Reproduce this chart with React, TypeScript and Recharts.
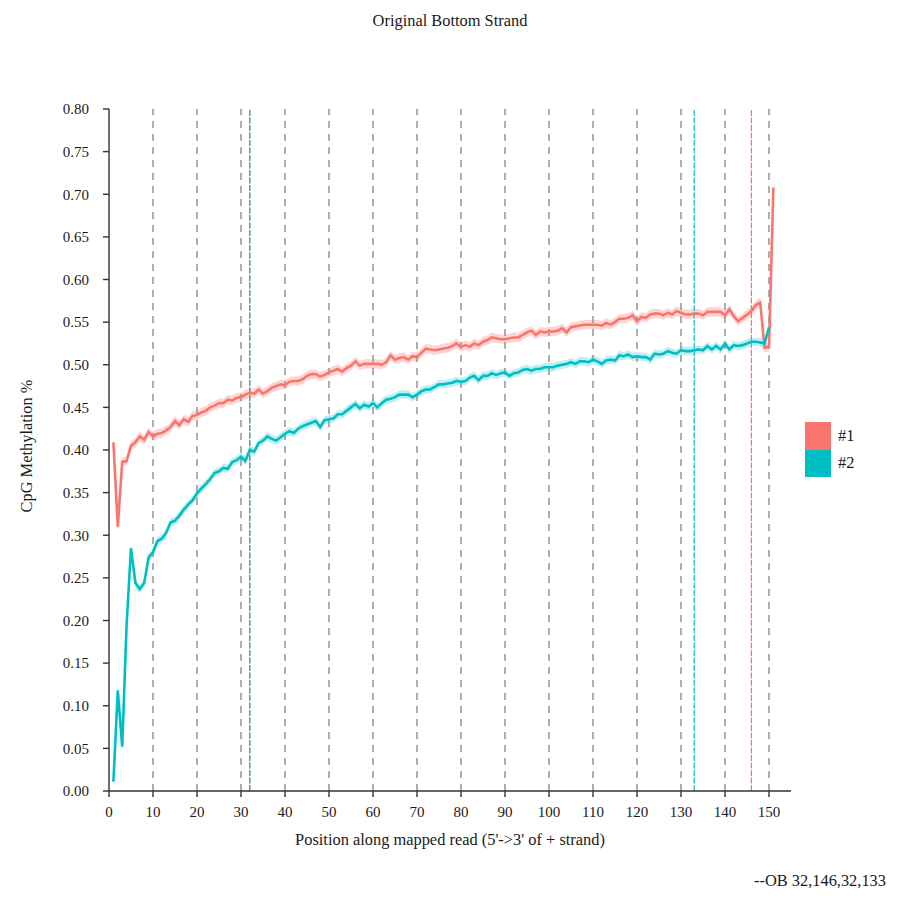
import { Area, ComposedChart, Line, ReferenceLine, XAxis, YAxis } from "recharts";

// CpG methylation along the read, one value per position (1..151)
const SAMPLE_1 = [
  0.409, 0.310, 0.386, 0.387, 0.405, 0.409, 0.416, 0.412, 0.421, 0.416,
  0.419, 0.420, 0.423, 0.427, 0.434, 0.429, 0.436, 0.433, 0.440, 0.441,
  0.444, 0.446, 0.450, 0.452, 0.455, 0.455, 0.459, 0.458, 0.461, 0.462,
  0.465, 0.467, 0.466, 0.471, 0.466, 0.469, 0.473, 0.475, 0.477, 0.476,
  0.480, 0.481, 0.481, 0.483, 0.487, 0.489, 0.489, 0.486, 0.488, 0.491,
  0.493, 0.495, 0.492, 0.496, 0.499, 0.504, 0.499, 0.501, 0.501, 0.501,
  0.501, 0.500, 0.503, 0.511, 0.506, 0.508, 0.509, 0.506, 0.510, 0.509,
  0.514, 0.519, 0.518, 0.517, 0.518, 0.519, 0.520, 0.522, 0.525, 0.521,
  0.523, 0.521, 0.525, 0.523, 0.527, 0.529, 0.532, 0.531, 0.530, 0.530,
  0.531, 0.532, 0.532, 0.535, 0.538, 0.540, 0.535, 0.539, 0.538, 0.539,
  0.539, 0.540, 0.543, 0.538, 0.544, 0.545, 0.546, 0.547, 0.547, 0.547,
  0.547, 0.546, 0.549, 0.547, 0.550, 0.554, 0.554, 0.555, 0.558, 0.551,
  0.556, 0.555, 0.559, 0.560, 0.560, 0.558, 0.561, 0.559, 0.563, 0.561,
  0.559, 0.559, 0.560, 0.560, 0.558, 0.562, 0.562, 0.562, 0.562, 0.558,
  0.565, 0.557, 0.551, 0.555, 0.559, 0.563, 0.570, 0.573, 0.520, 0.521,
  0.708,
];

// second sample stops at position 150
const SAMPLE_2 = [
  0.011, 0.118, 0.052, 0.195, 0.285, 0.244, 0.237, 0.244, 0.274, 0.280,
  0.293, 0.296, 0.303, 0.315, 0.317, 0.323, 0.330, 0.336, 0.341, 0.349,
  0.355, 0.360, 0.366, 0.373, 0.375, 0.379, 0.378, 0.386, 0.388, 0.392,
  0.387, 0.400, 0.398, 0.408, 0.411, 0.416, 0.413, 0.411, 0.415, 0.419,
  0.422, 0.420, 0.425, 0.428, 0.430, 0.432, 0.434, 0.427, 0.435, 0.436,
  0.437, 0.442, 0.442, 0.446, 0.450, 0.454, 0.449, 0.453, 0.451, 0.455,
  0.450, 0.455, 0.459, 0.460, 0.462, 0.465, 0.465, 0.465, 0.462, 0.465,
  0.469, 0.471, 0.471, 0.474, 0.477, 0.477, 0.478, 0.479, 0.481, 0.480,
  0.481, 0.485, 0.487, 0.482, 0.487, 0.487, 0.490, 0.488, 0.490, 0.491,
  0.487, 0.490, 0.491, 0.494, 0.495, 0.493, 0.495, 0.495, 0.497, 0.497,
  0.497, 0.499, 0.500, 0.501, 0.503, 0.501, 0.504, 0.504, 0.503, 0.506,
  0.504, 0.501, 0.505, 0.506, 0.505, 0.511, 0.510, 0.512, 0.509, 0.510,
  0.509, 0.509, 0.506, 0.513, 0.512, 0.513, 0.516, 0.514, 0.513, 0.517,
  0.516, 0.516, 0.517, 0.518, 0.517, 0.522, 0.518, 0.522, 0.518, 0.525,
  0.518, 0.523, 0.522, 0.523, 0.525, 0.527, 0.527, 0.526, 0.525, 0.544,
];

// half width of the shaded ribbon around each line
const BAND_1 = 0.0055;
const BAND_2 = 0.005;

const X_TICKS = [0, 10, 20, 30, 40, 50, 60, 70, 80, 90, 100, 110, 120, 130, 140, 150];
const Y_TICKS = [0, 0.05, 0.1, 0.15, 0.2, 0.25, 0.3, 0.35, 0.4, 0.45, 0.5, 0.55, 0.6, 0.65, 0.7, 0.75, 0.8];
const GRID_X = [10, 20, 30, 40, 50, 60, 70, 80, 90, 100, 110, 120, 130, 140, 150];
const CUTS_1 = [32, 146];
const CUTS_2 = [32, 133];

const RED = "#F8766D";
const CYAN = "#00BFC4";
const FONT = "'Liberation Serif', 'DejaVu Serif', serif";
const INK = "#1a1a1a";

const rows = SAMPLE_1.map((v, i) => {
  const c = SAMPLE_2[i];
  return {
    pos: i + 1,
    s1: v,
    s2: c,
    band1: [v - BAND_1, v + BAND_1],
    band2: c === undefined ? undefined : [c - BAND_2, c + BAND_2],
  };
});

const tickStyle = { fill: INK, fontSize: 15, fontFamily: FONT };

export default function App() {
  return (
    <div style={{ position: "absolute", left: 0, top: 0, width: 900, height: 900, background: "#fff", fontFamily: FONT, color: INK }}>
      <div style={{ position: "absolute", left: 0, top: 11, width: 900, textAlign: "center", fontSize: 16.4 }}>
        Original Bottom Strand
      </div>

      <ComposedChart width={900} height={900} data={rows} margin={{ top: 109, right: 109, bottom: 49, left: 0 }}>
        {GRID_X.map((x) => (
          <ReferenceLine key={`g${x}`} x={x} stroke="#9a9a9a" strokeWidth={1.6} strokeDasharray="7 6" />
        ))}
        {CUTS_1.map((x) => (
          <ReferenceLine key={`r${x}`} x={x} stroke={RED} strokeWidth={1.2} strokeDasharray="6 1.5" />
        ))}
        {CUTS_2.map((x) => (
          <ReferenceLine key={`c${x}`} x={x} stroke={CYAN} strokeWidth={1.2} strokeDasharray="6 1.5" />
        ))}
        <XAxis
          type="number"
          dataKey="pos"
          domain={[0, 155]}
          ticks={X_TICKS}
          height={60}
          tickSize={6}
          tickMargin={9}
          tick={tickStyle}
          stroke="#333"
          strokeWidth={1.4}
        />
        <YAxis
          type="number"
          domain={[0, 0.8]}
          ticks={Y_TICKS}
          width={109}
          tickSize={6}
          tickMargin={14}
          tick={tickStyle}
          tickFormatter={(v: number) => v.toFixed(2)}
          stroke="#333"
          strokeWidth={1.4}
        />
        <Area dataKey="band1" stroke="none" fill={RED} fillOpacity={0.3} isAnimationActive={false} activeDot={false} />
        <Area dataKey="band2" stroke="none" fill={CYAN} fillOpacity={0.25} isAnimationActive={false} activeDot={false} />
        <Line dataKey="s1" stroke={RED} strokeWidth={2.6} dot={false} activeDot={false} isAnimationActive={false} />
        <Line dataKey="s2" stroke={CYAN} strokeWidth={2.6} dot={false} activeDot={false} isAnimationActive={false} />
      </ComposedChart>

      <div
        style={{
          position: "absolute",
          left: 27,
          top: 446,
          transform: "translate(-50%, -50%) rotate(-90deg)",
          whiteSpace: "nowrap",
          fontSize: 16.4,
        }}
      >
        CpG Methylation %
      </div>
      <div style={{ position: "absolute", left: 109, top: 830, width: 682, textAlign: "center", fontSize: 16.4 }}>
        Position along mapped read (5'-&gt;3' of + strand)
      </div>

      <div style={{ position: "absolute", left: 805, top: 422, fontSize: 16.4 }}>
        {[
          { label: "#1", color: RED },
          { label: "#2", color: CYAN },
        ].map((item) => (
          <div key={item.label} style={{ display: "flex", alignItems: "center", height: 27.5 }}>
            <div style={{ width: 26, height: 27.5, background: item.color }} />
            <span style={{ marginLeft: 7 }}>{item.label}</span>
          </div>
        ))}
      </div>

      <div style={{ position: "absolute", right: 14, top: 871, fontSize: 16.4 }}>--OB 32,146,32,133</div>
    </div>
  );
}
